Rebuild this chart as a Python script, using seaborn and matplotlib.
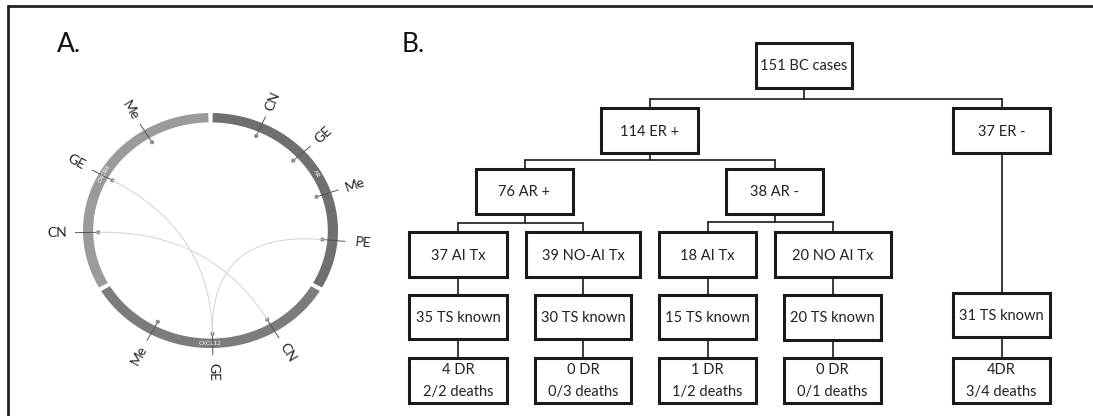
import numpy as np
import pandas as pd
import matplotlib
matplotlib.use('Agg')
import matplotlib.pyplot as plt
import seaborn as sns
from matplotlib.patches import Rectangle

sns.set_theme(style="white")
plt.rcParams['font.family'] = ['Lato', 'DejaVu Sans']

# ---------------- Panel A data (angles in degrees, clockwise from top)
segment_names = ['AR', 'CXCL12', 'CXCR4']
segment_start = [1, 121, 241]
segment_end = [119, 239, 359]

track_labels = ['CN', 'GE', 'Me', 'PE', 'CN', 'GE', 'Me', 'CN', 'GE', 'Me']
track_angles = [24, 47.5, 71, 95, 149.6, 179, 208, 269, 299, 328.6]

link_from = [299, 269, 95]
link_to = [179, 149.6, 179]

# ---------------- Panel B data
node_text = ['151 BC cases', '114 ER +', '37 ER -', '76 AR +', '38 AR -',
             '37 AI Tx', '39 NO-AI Tx', '18 AI Tx', '20 NO AI Tx',
             '35 TS known', '30 TS known', '15 TS known', '20 TS known', '31 TS known',
             '4 DR\n2/2 deaths', '0 DR\n0/3 deaths', '1 DR\n1/2 deaths',
             '0 DR\n0/1 deaths', '4DR\n3/4 deaths']
node_parent = [None, 0, 0, 1, 1, 3, 3, 4, 4, 5, 6, 7, 8, 2, 9, 10, 11, 12, 13]

# layout of boxes in pixels: x0, x1, y0, y1
box_layout = [
    (756, 852, 43, 88),
    (601, 698, 108, 153), (953, 1050, 108, 153),
    (476, 573, 169, 214), (726, 823, 169, 214),
    (409, 507, 232, 277), (526, 640, 232, 277), (659, 756, 232, 277), (775, 891, 232, 277),
    (409, 507, 295, 339), (535, 631, 295, 339), (659, 756, 295, 339), (784, 881, 295, 340),
    (953, 1050, 293, 337),
    (409, 507, 358, 403), (535, 631, 358, 403), (659, 756, 358, 403),
    (784, 881, 358, 403), (953, 1050, 358, 403),
]
bar_y = {0: 99, 1: 160, 3: 223, 4: 222}

# ---------------- figure
fig = plt.figure(figsize=(10.93, 4.16), dpi=100)
ax = fig.add_axes([0, 0, 1, 1])

cx, cy, rx, ry = 210.5, 230.5, 127.5, 117.5


def pt(theta, r):
    t = np.deg2rad(theta)
    return cx + rx * r * np.sin(t), cy - ry * r * np.cos(t)


# ring segments
seg_colors = ['#6f6f6f', '#7c7c7c', '#9b9b9b']
for name, a0, a1, col in zip(segment_names, segment_start, segment_end, seg_colors):
    th = np.linspace(a0, a1, 200)
    xo, yo = pt(th, 1.0)
    xi, yi = pt(th[::-1], 0.92)
    ax.fill(np.r_[xo, xi], np.r_[yo, yi], color=col, lw=0)
    mid = (a0 + a1) / 2
    mx, my = pt(mid, 0.96)
    rot = -mid
    if 90 < mid < 270:
        rot += 180
    ax.text(mx, my, name, color='white', fontsize=4.5, rotation=rot,
            ha='center', va='center', rotation_mode='anchor')

# links (quadratic bezier through the centre)
rows = []
for k, (a, b) in enumerate(zip(link_from, link_to)):
    p0 = np.array(pt(a, 0.88))
    p2 = np.array(pt(b, 0.88))
    c = np.array([cx, cy])
    for t in np.linspace(0, 1, 100):
        p = (1 - t) ** 2 * p0 + 2 * (1 - t) * t * c + t ** 2 * p2
        rows.append({'x': p[0], 'y': p[1], 'link': k})
links = pd.DataFrame(rows)
sns.lineplot(data=links, x='x', y='y', units='link', estimator=None, sort=False,
             color='#d2d2d2', lw=0.7, ax=ax)

# ticks, dots, labels
for lab, a in zip(track_labels, track_angles):
    x0, y0 = pt(a, 0.9)
    x1, y1 = pt(a, 1.06)
    ax.plot([x0, x1], [y0, y1], color='#555555', lw=0.7)
    lx, ly = pt(a, 1.2)
    rot = 90 - a if a <= 180 else 270 - a
    ax.text(lx, ly, lab, fontsize=10, color='#222222', rotation=rot,
            ha='center', va='center', rotation_mode='anchor')

dots = pd.DataFrame({'x': [pt(a, 0.88)[0] for a in track_angles],
                     'y': [pt(a, 0.88)[1] for a in track_angles]})
sns.scatterplot(data=dots, x='x', y='y', s=9, color='#8a8a8a', edgecolor='none', ax=ax)

# ---------------- Panel B tree
box_lw = 2.2
line_lw = 1.2
line_col = '#1a1a1a'

children = {}
for i, p in enumerate(node_parent):
    if p is not None:
        children.setdefault(p, []).append(i)

def centre(i):
    x0, x1, y0, y1 = box_layout[i]
    return (x0 + x1) / 2

for p, kids in children.items():
    px = centre(p)
    pb = box_layout[p][3]
    if len(kids) == 1:
        k = kids[0]
        ax.plot([px, px], [pb, box_layout[k][2]], color=line_col, lw=line_lw)
    else:
        by = bar_y[p]
        ax.plot([px, px], [pb, by], color=line_col, lw=line_lw)
        xs = [centre(k) for k in kids]
        ax.plot([min(xs), max(xs)], [by, by], color=line_col, lw=line_lw)
        for k in kids:
            ax.plot([centre(k), centre(k)], [by, box_layout[k][2]], color=line_col, lw=line_lw)

for txt, (x0, x1, y0, y1) in zip(node_text, box_layout):
    ax.add_patch(Rectangle((x0, y0), x1 - x0, y1 - y0, fill=True, facecolor='white',
                           edgecolor=line_col, lw=box_lw, zorder=3))
    lines = txt.split('\n')
    xm = (x0 + x1) / 2
    if len(lines) == 1:
        ax.text(xm, (y0 + y1) / 2 + 1, lines[0], fontsize=10.5, color='#222222',
                ha='center', va='center', zorder=4)
    else:
        ax.text(xm, y0 + 11.5, lines[0], fontsize=10.5, color='#222222',
                ha='center', va='center', zorder=4)
        ax.text(xm, y0 + 34, lines[1], fontsize=10.5, color='#222222',
                ha='center', va='center', zorder=4)

# panel letters
ax.text(57, 45, 'A.', fontsize=19, color='#111111', ha='left', va='center')
ax.text(402, 45, 'B.', fontsize=19, color='#111111', ha='left', va='center')

# outer frame (top and left)
ax.plot([8, 1093], [6, 6], color='#222222', lw=2.0)
ax.plot([8, 8], [6, 416], color='#222222', lw=2.0)

ax.set_xlim(0, 1093)
ax.set_ylim(416, 0)
ax.axis('off')

fig.savefig('out.png', dpi=100)
